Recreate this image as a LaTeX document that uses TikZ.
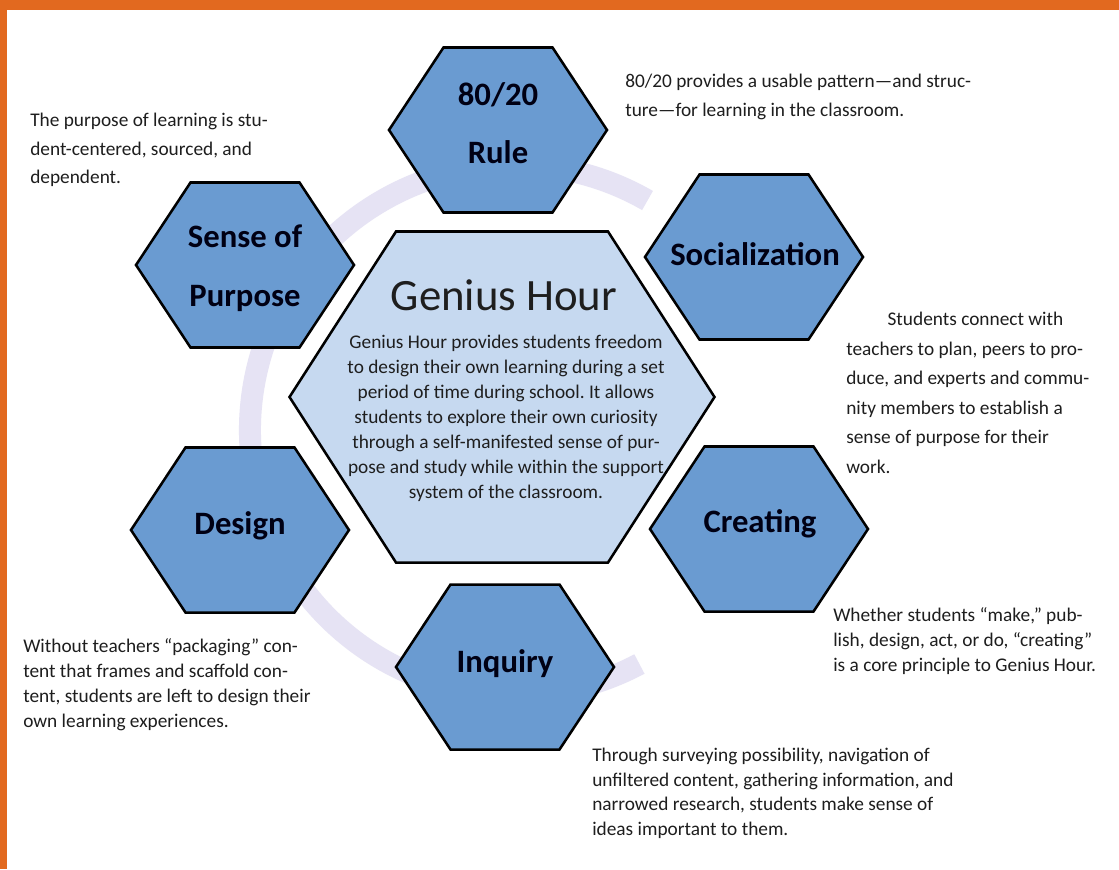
\documentclass[tikz,border=0pt]{standalone}
\usepackage{fontspec}
\setmainfont{Carlito}
\usepackage{tikz}
\frenchspacing
\definecolor{hexblue}{HTML}{6A9BD1}
\definecolor{hexpale}{HTML}{C6D9F0}
\definecolor{ringcol}{HTML}{E6E3F4}
\definecolor{framecol}{HTML}{E2691F}
\definecolor{inkcol}{HTML}{1E1E1E}
\tikzset{
    hexa/.style={draw=black,line width=1.9pt,line join=miter},
    hexsmall/.style={hexa,fill=hexblue},
    hexbig/.style={hexa,fill=hexpale},
    hexlabel/.style={font=\fontsize{24.5}{44}\selectfont\bfseries,align=center,inner sep=0pt,text=black!92!blue},
    note/.style={font=\fontsize{14.5}{#1}\selectfont,align=left,anchor=north west,inner sep=0pt,text=inkcol},
    note/.default=18.75pt
}

\begin{document}
\begin{tikzpicture}[x=0.75pt,y=-0.75pt]
\useasboundingbox (0,0) rectangle (1119,869);
\fill[white] (0,0) rectangle (1119,869);
\fill[framecol] (0,0) rectangle (1119,10);
\fill[framecol] (0,0) rectangle (7,869);

% watermark ring
\draw[ringcol,line width=16.5pt] (515,430) ++(62:265) arc[start angle=62,end angle=300,radius=265];

% hexagons
\foreach \cx/\cy in {498/130, 245/265, 754/257, 240/530, 759/529, 505/667}
  \draw[hexsmall] (\cx,\cy) +(-109,0) -- +(-54.5,-82.5) -- +(54.5,-82.5) -- +(109,0) -- +(54.5,82.5) -- +(-54.5,82.5) -- cycle;
\draw[hexbig] (502,397) +(-212.5,0) -- +(-106,-165.5) -- +(106,-165.5) -- +(212.5,0) -- +(106,165.5) -- +(-106,165.5) -- cycle;

\node[hexlabel] (rule) at (498,123) {80/20\\Rule};
\node[hexlabel] (purpose) at (245,268) {Sense of\\Purpose};
\node[hexlabel] (social) at (755,254) {Socialization};
\node[hexlabel] (design) at (240,526) {Design};
\node[hexlabel] (creating) at (760,524) {Creating};
\node[hexlabel] (inquiry) at (505,664) {Inquiry};

\node[font=\fontsize{33.6}{40}\selectfont,inner sep=0pt,text=inkcol] (genius) at (504,295) {Genius Hour};
\node[font=\fontsize{14.5}{18.75}\selectfont,align=center,anchor=north,inner sep=0pt,text=inkcol] (geniustext) at (506,335)
  {Genius Hour provides students freedom\\to design their own learning during a set\\period of time during school. It allows\\students to explore their own curiosity\\through a self-manifested sense of pur-\\pose and study while within the support\\system of the classroom.};

% notes
\node[note=21.4pt] (purposetext) at (30,113) {The purpose of learning is stu-\\dent-centered, sourced, and\\dependent.};
\node[note=21.75pt] (ruletext) at (625,74) {80/20 provides a usable pattern—and struc-\\ture—for learning in the classroom.};
\node[note=22.1pt] (socialtext) at (846,312) {\hspace*{31pt}Students connect with\\teachers to plan, peers to pro-\\duce, and experts and commu-\\nity members to establish a\\sense of purpose for their\\work.};
\node[note] (creatingtext) at (833,607) {Whether students “make,” pub-\\lish, design, act, or do, “creating”\\is a core principle to Genius Hour.};
\node[note] (designtext) at (23,638) {Without teachers “packaging” con-\\tent that frames and scaffold con-\\tent, students are left to design their\\own learning experiences.};
\node[note=18.4pt] (inquirytext) at (592,748) {Through surveying possibility, navigation of\\unfiltered content, gathering information, and\\narrowed research, students make sense of\\ideas important to them.};
\end{tikzpicture}
\end{document}
